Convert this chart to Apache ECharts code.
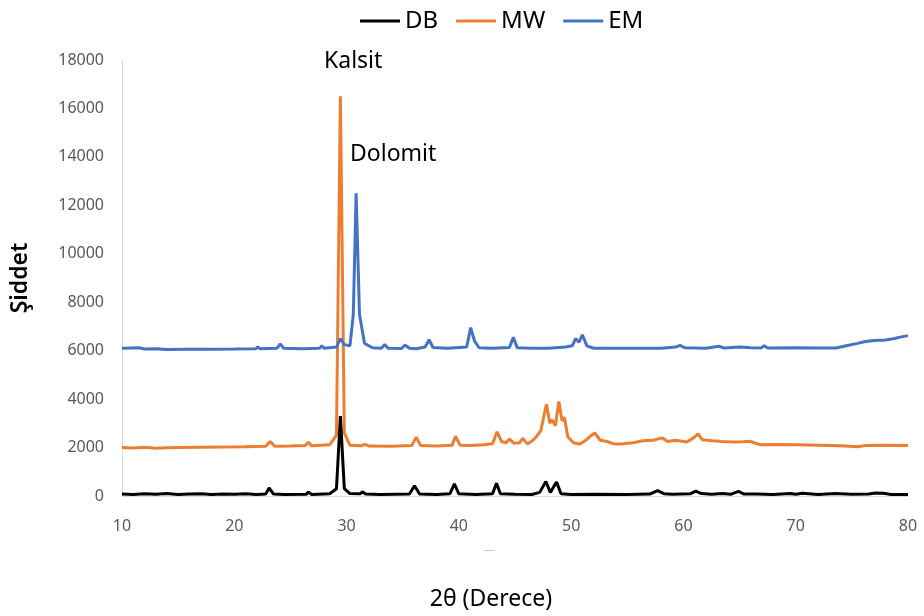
<!DOCTYPE html>
<html>
<head>
    <meta charset="utf-8" />
    <title>XRD</title>
    <script src="https://cdn.jsdelivr.net/npm/echarts@6/dist/echarts.min.js"></script>
    <style>
        body { margin: 0; background: #fff; }
        #main { width: 924px; height: 616px; }
    </style>
</head>
<body>
<div id="main"></div>
<script type="text/javascript">
    // 2θ ve şiddet değerleri
    let seriesNames = ['DB', 'MW', 'EM'];
    let xTicks = [10, 20, 30, 40, 50, 60, 70, 80];

    let db = [[10,80],[11,60],[12,90],[13,70],[14,100],[15,60],[16,80],[17,90],[18,60],[19,80],[20,70],[21,90],[22,60],
        [22.8,80],[23.1,330],[23.5,80],[24.5,60],[26.4,70],[26.6,160],[26.9,60],[28.5,90],[29.1,300],[29.45,3300],
        [29.8,300],[30.3,100],[31.2,90],[31.4,170],[31.7,80],[33,60],[35.6,80],[36.05,420],[36.5,80],[38,60],
        [39.2,90],[39.6,500],[40,90],[41.5,60],[43,90],[43.35,530],[43.7,90],[45,70],[46.5,60],[47.2,150],
        [47.75,600],[48.15,150],[48.3,120],[48.7,580],[49.1,90],[50,60],[52,70],[55,60],[57,80],[57.7,220],
        [58.3,90],[59,70],[60.6,90],[61.1,200],[61.6,100],[62.5,70],[63.5,100],[64.2,70],[64.9,190],[65.4,80],
        [66.5,80],[68,60],[69.5,100],[70,70],[70.6,110],[72,60],[73.5,100],[75,70],[76.5,80],[77.1,120],
        [77.8,110],[78.5,60],[80,60]];

    let mw = [[10,2000],[11,1980],[12,2010],[13,1970],[14,1990],[15,2000],[17,2010],[19,2020],[21,2030],
        [22.8,2050],[23.2,2250],[23.6,2050],[25,2060],[26.3,2080],[26.6,2220],[26.9,2070],[28.5,2120],[29.1,2500],
        [29.45,16500],[29.8,2600],[30.3,2100],[31.3,2070],[31.6,2130],[32,2060],[34,2050],[35.8,2080],[36.2,2430],
        [36.6,2080],[38,2060],[39.4,2100],[39.7,2470],[40.1,2100],[41,2080],[42.2,2120],[43,2160],[43.4,2650],
        [43.8,2250],[44.2,2200],[44.5,2350],[44.9,2180],[45.4,2200],[45.7,2380],[46.1,2150],[46.6,2300],
        [46.9,2450],[47.3,2700],[47.8,3800],[48.1,3000],[48.3,3150],[48.6,2900],[48.9,3900],[49.2,3100],
        [49.4,3250],[49.7,2450],[50.2,2200],[50.8,2150],[51.3,2300],[51.8,2500],[52.1,2600],[52.6,2300],
        [53.2,2250],[53.8,2150],[54.5,2150],[55.5,2200],[56.4,2280],[57.3,2300],[58.1,2400],[58.6,2250],
        [59.3,2300],[60.3,2230],[60.9,2400],[61.3,2560],[61.7,2320],[62.6,2280],[63.4,2250],[64.5,2230],
        [65.3,2240],[65.9,2260],[66.8,2120],[68,2130],[70,2120],[72,2100],[74,2070],[75.5,2030],[76.3,2090],
        [78,2100],[80,2090]];

    let em = [[10,6100],[11.5,6120],[12,6070],[13,6080],[14,6050],[16,6060],[18,6060],[20,6070],[21.9,6080],
        [22.1,6150],[22.3,6080],[23.8,6100],[24.1,6280],[24.4,6100],[26,6080],[27.6,6100],[27.8,6200],[28,6100],
        [29.1,6150],[29.45,6500],[29.8,6250],[30.3,6200],[30.6,7500],[30.85,12500],[31.15,7500],[31.6,6300],
        [32.3,6120],[33.1,6100],[33.4,6250],[33.7,6100],[34.9,6090],[35.2,6230],[35.6,6100],[36.2,6080],
        [37,6150],[37.35,6450],[37.7,6130],[39,6100],[40.7,6150],[41.05,6950],[41.4,6400],[41.8,6120],[43,6100],
        [44.5,6130],[44.85,6550],[45.2,6120],[46.5,6100],[48,6100],[49.5,6150],[50.1,6200],[50.4,6500],
        [50.7,6350],[51.0,6650],[51.4,6200],[52,6100],[55,6100],[58,6100],[59.3,6150],[59.7,6220],[60.1,6120],
        [62,6100],[63.2,6180],[63.6,6110],[65,6150],[66,6120],[66.9,6110],[67.2,6200],[67.5,6110],[70,6120],
        [72,6110],[73.6,6110],[74.5,6200],[75.5,6300],[76.2,6380],[77,6420],[78,6440],[78.8,6500],[79.3,6560],
        [80,6620]];

    let option = {
        animation: false,
        backgroundColor: '#ffffff',
        legend: {
            data: seriesNames,
            top: 4,
            left: 355,
            icon: 'rect',
            itemWidth: 40,
            itemHeight: 3,
            itemGap: 18,
            textStyle: { fontFamily: 'Noto Sans', fontSize: 24, color: '#000' }
        },
        grid: { left: 122, right: 16, top: 60, bottom: 114 },
        xAxis: {
            type: 'value',
            min: 10,
            max: 80,
            interval: 10,
            name: '2θ (Derece)',
            nameLocation: 'middle',
            nameGap: 92,
            nameTextStyle: { fontFamily: 'Noto Sans', fontSize: 23, color: '#000', padding: [0, 48, 0, 0] },
            axisLine: { lineStyle: { color: '#d9d9d9', width: 1 } },
            axisTick: { show: false },
            splitLine: { show: false },
            axisLabel: {
                margin: 22,
                fontFamily: 'Noto Sans',
                fontSize: 16,
                color: '#595959',
                formatter: function (v) { return xTicks.indexOf(v) >= 0 ? String(v) : ''; }
            }
        },
        yAxis: {
            type: 'value',
            min: 0,
            max: 18000,
            interval: 2000,
            name: 'Şiddet',
            nameLocation: 'middle',
            nameGap: 90,
            nameTextStyle: { fontFamily: 'Noto Sans', fontSize: 23, fontWeight: 600, color: '#000' },
            axisLine: { show: true, lineStyle: { color: '#d9d9d9', width: 1 } },
            axisTick: { show: false },
            splitLine: { show: false },
            axisLabel: {
                margin: 18, fontFamily: 'Noto Sans', fontSize: 16, color: '#595959',
                formatter: function (v) { return String(v); }
            }
        },
        series: [
            {
                name: 'MW', type: 'line', data: mw, symbol: 'none', z: 2,
                lineStyle: { color: '#ed7d31', width: 3 }, itemStyle: { color: '#ed7d31' }
            },
            {
                name: 'DB', type: 'line', data: db, symbol: 'none', z: 3,
                lineStyle: { color: '#000000', width: 3 }, itemStyle: { color: '#000000' }
            },
            {
                name: 'EM', type: 'line', data: em, symbol: 'none', z: 4,
                lineStyle: { color: '#4472c4', width: 3 }, itemStyle: { color: '#4472c4' }
            }
        ],
        graphic: [
            { type: 'text', left: 324, top: 50, style: { text: 'Kalsit', fontFamily: 'Noto Sans', fontSize: 23, fill: '#000' } },
            { type: 'text', left: 350, top: 143, style: { text: 'Dolomit', fontFamily: 'Noto Sans', fontSize: 23, fill: '#000' } },
            { type: 'text', left: 483, top: 545, style: { text: '—', fontFamily: 'Noto Sans', fontSize: 12, fill: '#c8c8c8' } }
        ]
    };

    let myChart = echarts.init(document.getElementById('main'));
    myChart.setOption(option);
</script>
</body>
</html>
